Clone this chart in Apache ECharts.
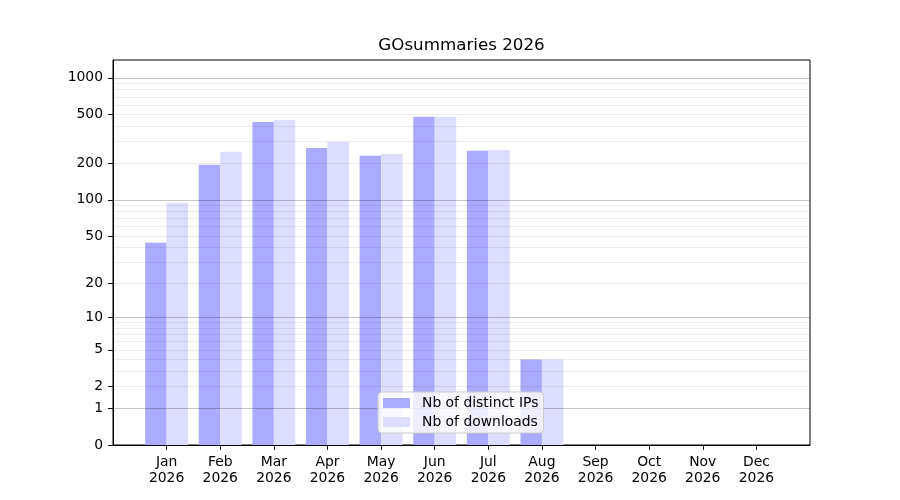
<!DOCTYPE html>
<html>
<head>
<meta charset="utf-8">
<script src="https://cdn.jsdelivr.net/npm/echarts@6/dist/echarts.min.js"></script>
<style>html,body{margin:0;padding:0;background:#fff}#c{width:900px;height:500px}</style>
</head>
<body>
<div id="c"></div>
<script>
const titleText = 'GOsummaries 2026';
const months = ['Jan','Feb','Mar','Apr','May','Jun','Jul','Aug','Sep','Oct','Nov','Dec'];
const year = '2026';
const distinctIPs = [44, 194, 436, 267, 230, 480, 253, 4, 0, 0, 0, 0];
const downloads   = [94, 248, 453, 299, 238, 480, 257, 4, 0, 0, 0, 0];
const yTickLabels = [0, 1, 2, 5, 10, 20, 50, 100, 200, 500, 1000];
const majorGrid = [1, 10, 100, 1000];
const minorGrid = [2,3,4,5,6,7,8,9,20,30,40,50,60,70,80,90,200,300,400,500,600,700,800,900];
const yTop = 1400;

// symmetric-log style transform: log10(v + 1)
const f = v => Math.log10(v + 1);
const inv = t => Math.round(Math.pow(10, t) - 1);
const idx = months.map((_, i) => i);
const font = 'DejaVu Sans';

const chart = echarts.init(document.getElementById('c'), null, {renderer: 'canvas'});
const gridAxis = (vals, color) => ({
  type: 'value', min: 0, max: f(yTop), z: 3,
  axisLine: {show: false}, axisLabel: {show: false},
  axisTick: {show: false, customValues: vals.map(f)},
  splitLine: {show: true, lineStyle: {color: color, width: 1}}
});
chart.setOption({
  animation: false,
  backgroundColor: '#ffffff',
  title: {
    text: titleText, left: 461.5, top: 37, padding: 0, textAlign: 'center',
    textStyle: {fontFamily: font, fontSize: 16.7, fontWeight: 'normal', color: '#000'}
  },
  legend: {
    orient: 'vertical', left: 378, top: 392,
    padding: [4, 5, 4, 5], itemGap: 5, itemWidth: 27, itemHeight: 10, icon: 'rect',
    backgroundColor: 'rgba(255,255,255,0.8)', borderColor: '#cccccc', borderWidth: 1, borderRadius: 4,
    textStyle: {fontFamily: font, fontSize: 13.9, color: '#000', padding: [0, 0, 0, 7]},
    data: ['Nb of distinct IPs', 'Nb of downloads']
  },
  grid: {left: 113, right: 90, top: 60, bottom: 55, show: true, borderColor: '#000', borderWidth: 1, backgroundColor: 'transparent'},
  xAxis: {
    type: 'value', min: -1, max: 12,
    axisLine: {show: true, onZero: false, lineStyle: {color: '#000'}},
    axisTick: {show: true, length: 4.9, customValues: idx, lineStyle: {color: '#000'}},
    axisLabel: {
      customValues: idx, margin: 9, lineHeight: 16,
      fontFamily: font, fontSize: 13.9, color: '#000',
      formatter: v => months[Math.round(v)] + '\n' + year
    },
    splitLine: {show: false}
  },
  yAxis: [
    {
      type: 'value', min: 0, max: f(yTop),
      axisLine: {show: true, onZero: false, lineStyle: {color: '#000'}},
      axisTick: {show: true, length: 4.9, customValues: yTickLabels.map(f), lineStyle: {color: '#000'}},
      axisLabel: {
        customValues: yTickLabels.map(f), margin: 10,
        fontFamily: font, fontSize: 13.9, color: '#000', padding: [5, 0, 0, 0],
        formatter: v => String(inv(v))
      },
      splitLine: {show: false}
    },
    gridAxis(majorGrid, 'rgba(0,0,0,0.22)'),
    gridAxis(minorGrid, 'rgba(0,0,0,0.07)')
  ],
  series: [
    {
      name: 'Nb of distinct IPs', type: 'bar', barWidth: '40%', barGap: '0%',
      itemStyle: {color: '#aaaaff'},
      data: distinctIPs.map((v, i) => [i, f(v)])
    },
    {
      name: 'Nb of downloads', type: 'bar', barWidth: '40%', barGap: '0%',
      itemStyle: {color: '#ddddff'},
      data: downloads.map((v, i) => [i, f(v)])
    }
  ]
});
</script>
</body>
</html>
